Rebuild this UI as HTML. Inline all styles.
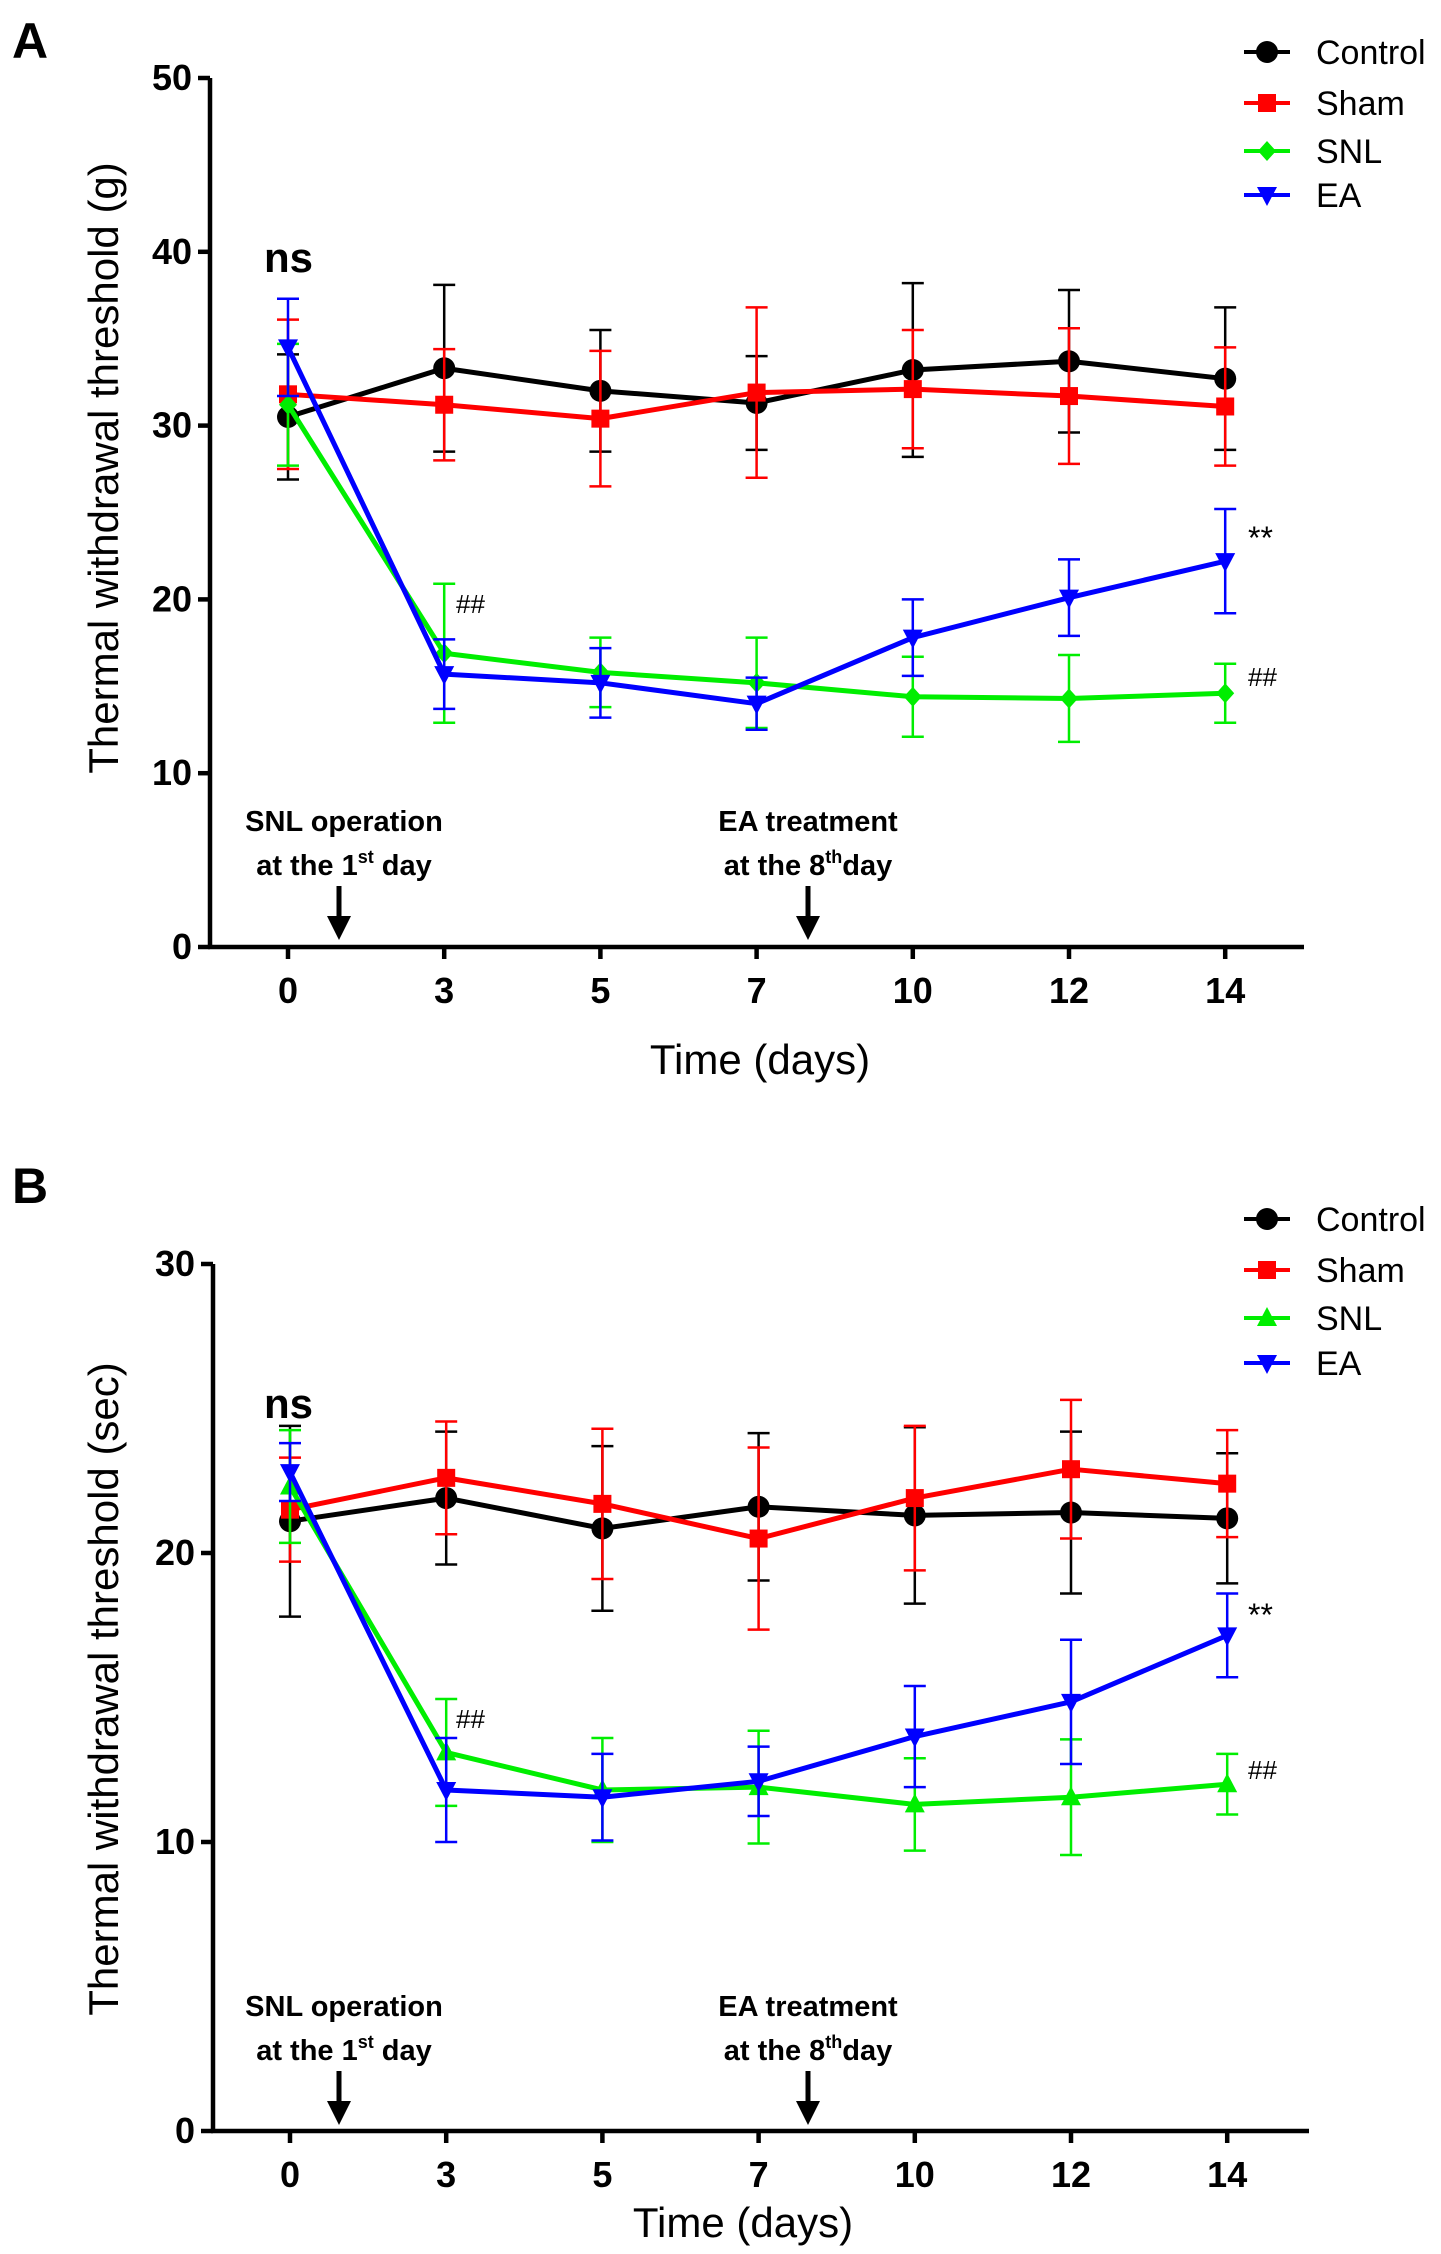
<!DOCTYPE html>
<html><head><meta charset="utf-8"><style>
html,body{margin:0;padding:0;background:#fff;}
svg{display:block;font-family:"Liberation Sans",sans-serif;}
.tick{font-family:"Liberation Sans Narrow","Liberation Sans",sans-serif;font-weight:bold;font-size:36px;}
.ann{font-family:"Liberation Sans Narrow","Liberation Sans",sans-serif;font-weight:bold;font-size:29px;}
</style></head><body>
<svg id="chart" width="1441" height="2254" viewBox="0 0 1441 2254"></svg>
<script>
const days = ["0","3","5","7","10","12","14"];
const seriesNames = ["Control","Sham","SNL","EA"];
const seriesColors = ["#000000","#ff0000","#00ee00","#0000ff"];
const yTicksA = [0,10,20,30,40,50];
const ctrlA = [30.5,33.3,32.0,31.3,33.2,33.7,32.7];
const ctrlErrA = [3.6,4.8,3.5,2.7,5.0,4.1,4.1];
const shamA = [31.8,31.2,30.4,31.9,32.1,31.7,31.1];
const shamErrA = [4.3,3.2,3.9,4.9,3.4,3.9,3.4];
const snlA = [31.2,16.9,15.8,15.2,14.4,14.3,14.6];
const snlErrA = [3.5,4.0,2.0,2.6,2.3,2.5,1.7];
const eaA = [34.5,15.7,15.2,14.0,17.8,20.1,22.2];
const eaErrA = [2.8,2.0,2.0,1.5,2.2,2.2,3.0];
const yTicksB = [0,10,20,30];
const ctrlB = [21.1,21.9,20.85,21.6,21.3,21.4,21.2];
const ctrlErrB = [3.3,2.3,2.85,2.55,3.05,2.8,2.25];
const shamB = [21.5,22.6,21.7,20.5,21.9,22.9,22.4];
const shamErrB = [1.8,1.95,2.6,3.15,2.5,2.4,1.85];
const snlB = [22.3,13.1,11.8,11.9,11.3,11.55,12.0];
const snlErrB = [1.95,1.85,1.8,1.95,1.6,2.0,1.05];
const eaB = [22.8,11.8,11.55,12.1,13.65,14.85,17.15];
const eaErrB = [1.0,1.8,1.5,1.2,1.75,2.15,1.45];

const NS="http://www.w3.org/2000/svg";
const svg=document.getElementById('chart');
function mk(tag,attrs,parent,text){const e=document.createElementNS(NS,tag);for(const k in attrs)e.setAttribute(k,attrs[k]);if(text!==undefined)e.textContent=text;(parent||svg).appendChild(e);return e;}

function marker(g,shape,x,y,c){
  let e;
  if(shape==='circle'){e=mk('circle',{cx:x,cy:y,r:11,fill:c},g);}
  else if(shape==='square'){e=mk('rect',{x:x-9,y:y-9,width:18,height:18,fill:c},g);}
  else if(shape==='diamond'){e=mk('polygon',{points:`${x},${y-10} ${x+9},${y} ${x},${y+10} ${x-9},${y}`,fill:c},g);}
  else if(shape==='tri'){e=mk('polygon',{points:`${x},${y-11} ${x+10},${y+8} ${x-10},${y+8}`,fill:c},g);}
  else {e=mk('polygon',{points:`${x},${y+11} ${x+10},${y-8} ${x-10},${y-8}`,fill:c},g);}
  return e;
}

function panel(p){
  const g=mk('g',{});
  
  
  const yMax=p.yTicks[p.yTicks.length-1];
  const X=i=>p.x0+i*p.dx;
  const Y=v=>p.yBot-(v/yMax)*(p.yBot-p.yTop);
  const lab=mk('text',{x:12,y:p.labY,'font-size':50,'font-weight':'bold'},g,p.letter);
  
  
  const ya=mk('line',{x1:p.ax,y1:p.yTop,x2:p.ax,y2:p.yBot+2,stroke:'#000','stroke-width':4.5},g);
  
  
  const xa=mk('line',{x1:p.ax-2,y1:p.yBot,x2:p.xEnd,y2:p.yBot,stroke:'#000','stroke-width':4.5},g);
  
  
  p.yTicks.forEach(v=>{
    mk('line',{x1:p.ax-12,y1:Y(v),x2:p.ax,y2:Y(v),stroke:'#000','stroke-width':4.5},g);
    const t=mk('text',{x:p.ax-18,y:Y(v)+12,'text-anchor':'end',class:'tick'},g,String(v));
    
    
  });
  days.forEach((d,i)=>{
    mk('line',{x1:X(i),y1:p.yBot,x2:X(i),y2:p.yBot+12,stroke:'#000','stroke-width':4.5},g);
    const t=mk('text',{x:X(i),y:p.tickY+12,'text-anchor':'middle',class:'tick'},g,d);
    
    
  });
  const xt=mk('text',{x:p.xTitleX,y:p.xTitleY+15,'text-anchor':'middle','font-size':42},g,'Time (days)');
  
  
  const yt=mk('text',{x:0,y:0,'text-anchor':'middle','font-size':42,transform:`translate(${p.yTitleX+15},${p.yTitleY}) rotate(-90)`},g,p.yTitle);
  
  
  p.series.forEach((s,si)=>{
    const sg=mk('g',{},g);
    
    
    const c=seriesColors[si];
    s.vals.forEach((v,i)=>{
      const hi=Y(v+s.err[i]), lo=Y(v-s.err[i]);
      const eb=mk('path',{d:`M${X(i)},${hi}V${lo}M${X(i)-11},${hi}H${X(i)+11}M${X(i)-11},${lo}H${X(i)+11}`,stroke:c,'stroke-width':2.5,fill:'none'},sg);
      
      
    });
    const pts=s.vals.map((v,i)=>X(i)+','+Y(v)).join(' ');
    const ln=mk('polyline',{points:pts,fill:'none',stroke:c,'stroke-width':5,'stroke-linejoin':'round'},sg);
    
    
    s.vals.forEach((v,i)=>{
      const m=marker(sg,s.shape,X(i),Y(v),c);
      
      
    });
  });
  p.legY.forEach((ly,si)=>{
    const lg=mk('g',{},g);
    
    
    mk('line',{x1:1244,y1:ly,x2:1290,y2:ly,stroke:seriesColors[si],'stroke-width':4},lg);
    marker(lg,p.series[si].shape,1267,ly,seriesColors[si]);
    mk('text',{x:1316,y:ly+12,'font-size':34},lg,seriesNames[si]);
  });
  const ns=mk('text',{x:264,y:p.nsY+14,'font-size':42,'font-weight':'bold'},g,'ns');
  
  
  const h1=mk('text',{x:456,y:p.hash1Y+9,'font-size':26},g,'##');
  
  
  const st=mk('text',{x:1248,y:p.starY+16,'font-size':32},g,'**');
  
  
  const h2=mk('text',{x:1248,y:p.hash2Y+9,'font-size':26},g,'##');
  
  
  [[344,'SNL operation','at the 1','st',' day',339],[808,'EA treatment','at the 8','th','day',808]].forEach(a=>{
    const ag=mk('g',{},g);
    
    
    mk('text',{x:a[0],y:p.annY+10,'text-anchor':'middle',class:'ann'},ag,a[1]);
    const t2=mk('text',{x:a[0],y:p.annY+54,'text-anchor':'middle',class:'ann'},ag);
    const s1=document.createElementNS(NS,'tspan');s1.textContent=a[2];t2.appendChild(s1);
    const s2=document.createElementNS(NS,'tspan');s2.setAttribute('dy','-12');s2.setAttribute('font-size','18');s2.textContent=a[3];t2.appendChild(s2);
    const s3=document.createElementNS(NS,'tspan');s3.setAttribute('dy','12');s3.textContent=a[4];t2.appendChild(s3);
    const ax=a[5];
    mk('line',{x1:ax,y1:p.arrTop,x2:ax,y2:p.arrBot-22,stroke:'#000','stroke-width':5},ag);
    mk('polygon',{points:`${ax-12},${p.arrBot-24} ${ax+12},${p.arrBot-24} ${ax},${p.arrBot}`,fill:'#000'},ag);
  });
}

panel({name:'panel-a-chart',letter:'A',labY:58,ax:210,xEnd:1304,x0:288,dx:156.2,yTop:78,yBot:947,yTicks:yTicksA,
  tickY:991,xTitleX:760,xTitleY:1059,yTitleX:103,yTitleY:468,yTitle:'Thermal withdrawal threshold (g)',
  legY:[52,103,151,195],nsY:258,hash1Y:604,starY:533,hash2Y:677,annY:821,arrTop:886,arrBot:940,
  series:[{vals:ctrlA,err:ctrlErrA,shape:'circle'},{vals:shamA,err:shamErrA,shape:'square'},{vals:snlA,err:snlErrA,shape:'diamond'},{vals:eaA,err:eaErrA,shape:'itri'}]});

panel({name:'panel-b-chart',letter:'B',labY:1203,ax:213,xEnd:1309,x0:290,dx:156.2,yTop:1264,yBot:2131,yTicks:yTicksB,
  tickY:2175,xTitleX:743,xTitleY:2222,yTitleX:103,yTitleY:1689,yTitle:'Thermal withdrawal threshold (sec)',
  legY:[1219,1270,1318,1363],nsY:1404,hash1Y:1719,starY:1610,hash2Y:1770,annY:2006,arrTop:2071,arrBot:2125,
  series:[{vals:ctrlB,err:ctrlErrB,shape:'circle'},{vals:shamB,err:shamErrB,shape:'square'},{vals:snlB,err:snlErrB,shape:'tri'},{vals:eaB,err:eaErrB,shape:'itri'}]});
</script>
</body></html>
